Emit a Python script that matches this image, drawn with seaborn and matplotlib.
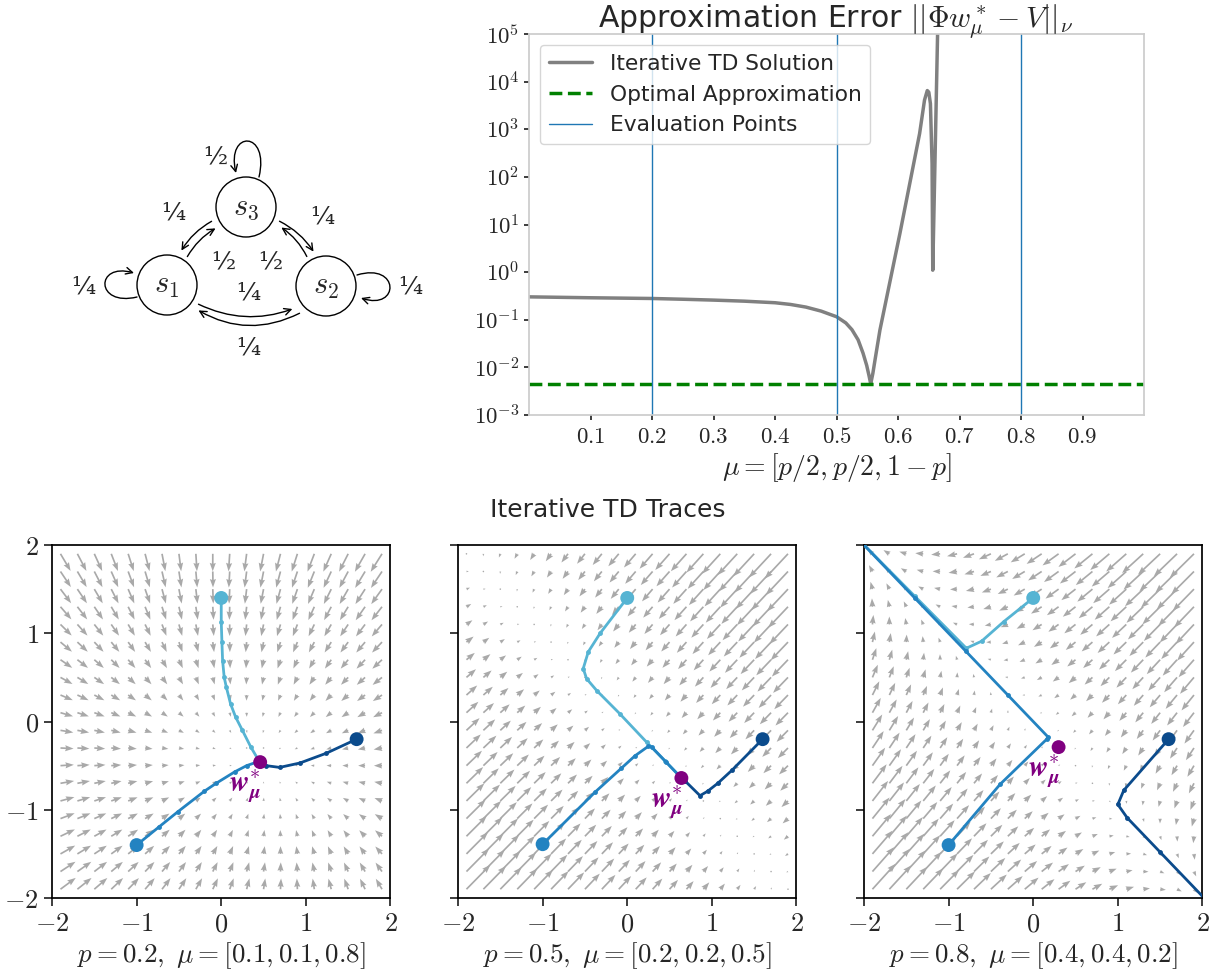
import numpy as np
import matplotlib
matplotlib.use("Agg")
import matplotlib.pyplot as plt
import seaborn as sns
from matplotlib.patches import Circle, FancyArrowPatch
from matplotlib.path import Path
from matplotlib.ticker import NullLocator

# ---- approximation error (top right) ----
mu_p = [0.00, 0.10, 0.20, 0.25, 0.30, 0.35, 0.40, 0.425, 0.45, 0.475, 0.49, 0.50,
        0.515, 0.525, 0.535, 0.543, 0.549, 0.553, 0.5555, 0.559, 0.5625, 0.5705,
        0.603, 0.635, 0.643, 0.6475, 0.650, 0.6526, 0.6553, 0.6564, 0.665]
td_error = [0.303, 0.29, 0.28, 0.27, 0.259, 0.246, 0.228, 0.21, 0.185, 0.152, 0.129, 0.116,
            0.086, 0.062, 0.038, 0.02, 0.011, 0.0065, 0.0045, 0.0075, 0.0143, 0.0608,
            6.5, 810, 4100, 6500, 6000, 3450, 190, 1.1, 3e5]
optimal_error = 4.5e-3
eval_points = [0.2, 0.5, 0.8]
err_ticks = [1e-3, 1e-2, 1e-1, 1e0, 1e1, 1e2, 1e3, 1e4, 1e5]
err_ticklabels = [r"$10^{-3}$", r"$10^{-2}$", r"$10^{-1}$", r"$10^{0}$", r"$10^{1}$",
                  r"$10^{2}$", r"$10^{3}$", r"$10^{4}$", r"$10^{5}$"]
mu_ticks = [0.1, 0.2, 0.3, 0.4, 0.5, 0.6, 0.7, 0.8, 0.9]

# ---- TD traces (bottom) ----
panel_p = ["0.2", "0.5", "0.8"]
panel_mu = ["[0.1, 0.1, 0.8]", "[0.2, 0.2, 0.5]", "[0.4, 0.4, 0.2]"]
w_star = [(0.46, -0.46), (0.64, -0.64), (0.30, -0.29)]
# expected TD update matrices A (field = -A (w - w*))
td_A = [np.array([[1.00, 0.24], [0.04, 1.27]]),
        np.array([[1.14, 1.06], [1.06, 1.14]]),
        np.array([[0.90, 1.30], [1.30, 0.90]])]
trace_colors = ["#56b4d3", "#2383c1", "#0b4b8c"]

p02_cyan_x = [0.0, 0.0, 0.008, 0.016, 0.035, 0.06, 0.11, 0.17, 0.25, 0.35, 0.43, 0.46]
p02_cyan_y = [1.40, 1.13, 0.90, 0.69, 0.50, 0.39, 0.20, 0.05, -0.10, -0.29, -0.42, -0.46]
p02_blue_x = [-1.0, -0.73, -0.51, -0.20, -0.06, 0.16, 0.30, 0.42, 0.46]
p02_blue_y = [-1.40, -1.19, -1.02, -0.79, -0.70, -0.57, -0.50, -0.46, -0.46]
p02_dark_x = [1.60, 1.24, 0.93, 0.69, 0.53, 0.46]
p02_dark_y = [-0.20, -0.36, -0.47, -0.52, -0.50, -0.46]

p05_cyan_x = [0.0, -0.32, -0.46, -0.52, -0.48, -0.36, -0.09, 0.23, 0.45, 0.64]
p05_cyan_y = [1.40, 1.00, 0.79, 0.60, 0.485, 0.35, 0.09, -0.235, -0.45, -0.64]
p05_blue_x = [-1.0, -0.38, -0.07, 0.09, 0.25, 0.29, 0.46, 0.64]
p05_blue_y = [-1.39, -0.80, -0.53, -0.39, -0.28, -0.29, -0.46, -0.64]
p05_dark_x = [1.60, 1.24, 1.07, 0.95, 0.86, 0.68, 0.64]
p05_dark_y = [-0.20, -0.55, -0.70, -0.79, -0.84, -0.67, -0.64]

p08_cyan_x = [0.0, -0.35, -0.61, -0.79, -1.40, -2.05]
p08_cyan_y = [1.40, 1.13, 0.91, 0.83, 1.42, 2.05]
p08_blue_x = [-1.0, -0.39, 0.16, 0.18, -0.30, -0.80, -1.40, -2.05]
p08_blue_y = [-1.40, -0.71, -0.20, -0.18, 0.30, 0.80, 1.40, 2.05]
p08_dark_x = [1.60, 1.07, 1.00, 1.11, 1.50, 2.05]
p08_dark_y = [-0.20, -0.78, -0.94, -1.09, -1.48, -2.03]

traces = [
    [(p02_cyan_x, p02_cyan_y), (p02_blue_x, p02_blue_y), (p02_dark_x, p02_dark_y)],
    [(p05_cyan_x, p05_cyan_y), (p05_blue_x, p05_blue_y), (p05_dark_x, p05_dark_y)],
    [(p08_cyan_x, p08_cyan_y), (p08_blue_x, p08_blue_y), (p08_dark_x, p08_dark_y)],
]
grid = np.linspace(-1.9, 1.9, 20)
ticks2 = [-2, -1, 0, 1, 2]

sns.set_theme(style="ticks")
plt.rcParams["font.family"] = ["DejaVu Sans"]
plt.rcParams["mathtext.fontset"] = "cm"

fig = plt.figure(figsize=(12.21, 9.72), dpi=100)

# ---- Markov chain diagram (top left), axes in pixel units ----
axd = fig.add_axes([0, 0.5, 0.42, 0.5])
axd.set_xlim(0, 512.82)
axd.set_ylim(486, 0)
axd.axis("off")
states = {"s_1": (167, 285), "s_2": (326, 286), "s_3": (246, 207)}
for name, (cx, cy) in states.items():
    axd.add_patch(Circle((cx, cy), 30, fill=False, lw=1.0, ec="black"))
    axd.text(cx, cy, rf"${name}$", ha="center", va="center", fontsize=22)

arrow_kw = dict(arrowstyle="->", mutation_scale=12, lw=1.0, color="black")
edges = [((214, 220), (180, 253), 0.15), ((186, 259), (218, 227), -0.15),
         ((277, 220), (315, 254), -0.15), ((308, 259), (279, 226), 0.15),
         ((196, 303), (295, 308), 0.22), ((302, 312), (196, 309), -0.28)]
for a, b, rad in edges:
    axd.add_patch(FancyArrowPatch(a, b, connectionstyle=f"arc3,rad={rad}", **arrow_kw))
loops = [[(259, 177), (270, 130), (226, 130), (236, 173)],
         [(137, 297), (95, 307), (95, 262), (134, 273)],
         [(357, 275), (400, 262), (400, 311), (361, 298)]]
for verts in loops:
    path = Path(verts, [Path.MOVETO, Path.CURVE4, Path.CURVE4, Path.CURVE4])
    axd.add_patch(FancyArrowPatch(path=path, **arrow_kw))
frac_labels = [("½", 215, 158), ("¼", 173, 213), ("¼", 322, 217), ("½", 223, 263),
               ("½", 270, 263), ("¼", 248, 293), ("¼", 248, 348), ("¼", 83, 287),
               ("¼", 410, 287)]
for s, x, y in frac_labels:
    axd.text(x, y, s, ha="center", va="center", fontsize=18, family="DejaVu Serif")

# ---- approximation error plot ----
ax = fig.add_axes([0.4333, 0.573, 0.5037, 0.392])
ax.set_yscale("log")
sns.lineplot(x=mu_p, y=td_error, sort=False, estimator=None, color="gray", lw=2.5,
             label="Iterative TD Solution", ax=ax)
ax.axhline(optimal_error, color="green", ls="--", lw=2.5, label="Optimal Approximation")
for i, e in enumerate(eval_points):
    ax.axvline(e, color="tab:blue", lw=1.0, label="Evaluation Points" if i == 0 else None)
ax.set_xlim(0, 1)
ax.set_ylim(1e-3, 1e5)
ax.set_yticks(err_ticks)
ax.set_yticklabels(err_ticklabels)
ax.yaxis.set_minor_locator(NullLocator())
ax.set_xticks(mu_ticks)
ax.set_xticklabels([rf"${t:.1f}$" for t in mu_ticks])
ax.tick_params(labelsize=16.5, length=3.5)
for sp in ax.spines.values():
    sp.set_color("#cccccc")
ax.set_xlabel(r"$\mu = [p/2, p/2, 1-p]$", fontsize=20, labelpad=2)
fig.text(0.6846, 1 - 27 / 972, r"Approximation Error $||\Phi w^*_\mu - V||_\nu$",
         ha="center", va="baseline", fontsize=21.5)
ax.legend(loc="upper left", fontsize=15.7, frameon=True)

# ---- TD trace panels ----
fig.text(0.498, 0.4753, "Iterative TD Traces", ha="center", va="center", fontsize=18)
lefts = [0.0426, 0.3751, 0.7076]
X, Y = np.meshgrid(grid, grid)
for k in range(3):
    axk = fig.add_axes([lefts[k], 0.0761, 0.2772, 0.3632])
    ws = w_star[k]
    A = td_A[k]
    dX, dY = X - ws[0], Y - ws[1]
    U = -(A[0, 0] * dX + A[0, 1] * dY)
    V = -(A[1, 0] * dX + A[1, 1] * dY)
    axk.quiver(X, Y, U, V, color="darkgray", angles="xy", scale_units="xy", scale=15,
               width=0.005, headwidth=3.6, headlength=5, zorder=1)
    for (xs, ys), c in zip(traces[k], trace_colors):
        sns.lineplot(x=xs, y=ys, sort=False, estimator=None, color=c, lw=2,
                     marker="o", markersize=3.5, markeredgewidth=0, ax=axk, zorder=3)
        sns.scatterplot(x=[xs[0]], y=[ys[0]], s=100, color=c, edgecolor="none",
                        ax=axk, zorder=4)
    sns.scatterplot(x=[ws[0]], y=[ws[1]], s=100, color="purple", edgecolor="none",
                    ax=axk, zorder=5)
    axk.text(ws[0] - 0.17, ws[1] - 0.28, r"$\mathbfit{w}^{*}_{\mathbfit{\mu}}$",
             color="purple", fontsize=21, ha="center", va="center", zorder=6)
    axk.set_xlim(-2, 2)
    axk.set_ylim(-2, 2)
    axk.set_xticks(ticks2)
    axk.set_xticklabels([rf"${t}$" for t in ticks2])
    axk.set_yticks(ticks2)
    if k == 0:
        axk.set_yticklabels([rf"${t}$" for t in ticks2])
    else:
        axk.set_yticklabels([])
    axk.tick_params(labelsize=19)
    for sp in axk.spines.values():
        sp.set_color("black")
    axk.set_xlabel(rf"$p = {panel_p[k]},\ \mu = {panel_mu[k]}$", fontsize=19.5,
                   labelpad=2)

fig.savefig("out.png", dpi=100)
